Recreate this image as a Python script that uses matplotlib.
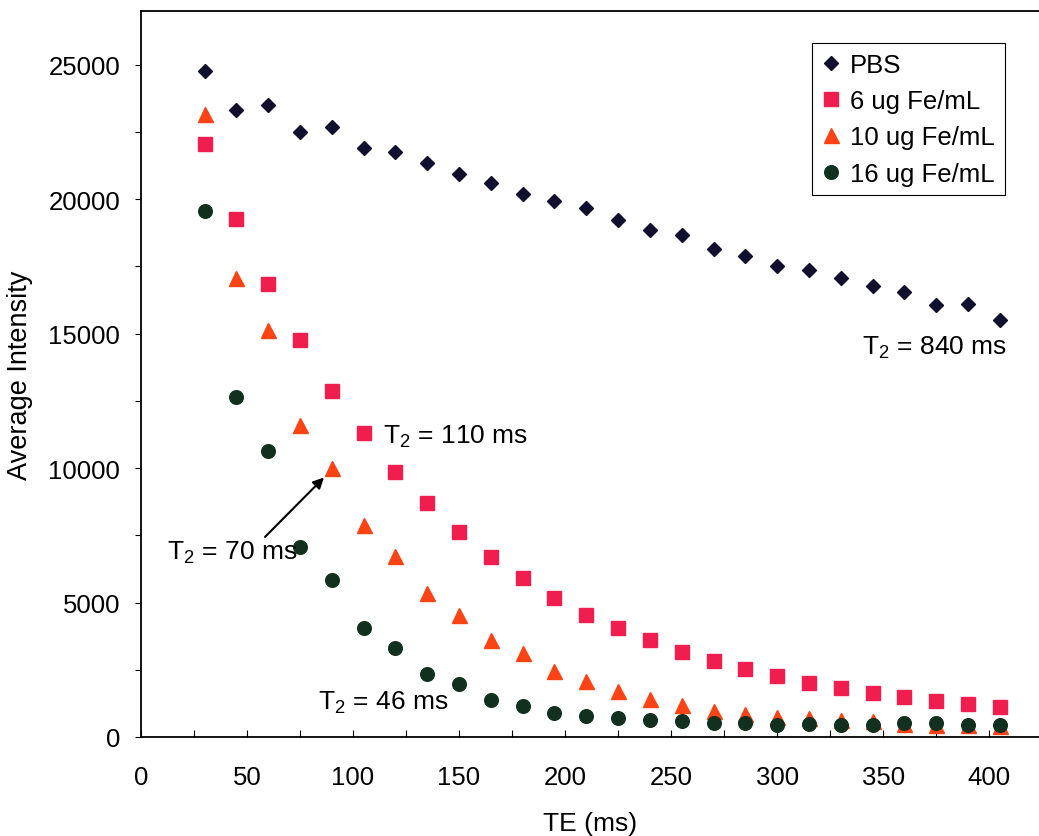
import matplotlib
matplotlib.use("Agg")
import matplotlib.pyplot as plt
from matplotlib.ticker import MultipleLocator

plt.rcParams['font.family'] = ['Liberation Sans', 'DejaVu Sans']
plt.rcParams['mathtext.fontset'] = 'custom'
plt.rcParams['mathtext.rm'] = 'Liberation Sans'
plt.rcParams['mathtext.it'] = 'Liberation Sans'
plt.rcParams['mathtext.default'] = 'regular'

# echo times (ms)
te = [30, 45, 60, 75, 90, 105, 120, 135, 150, 165, 180, 195, 210,
      225, 240, 255, 270, 285, 300, 315, 330, 345, 360, 375, 390, 405]

pbs = [24780, 23300, 23490, 22500, 22680, 21910, 21750, 21350, 20950, 20600,
       20180, 19930, 19680, 19210, 18860, 18650, 18130, 17870, 17510, 17370,
       17060, 16770, 16540, 16050, 16100, 15510]
fe6 = [22060, 19270, 16850, 14770, 12880, 11300, 9870, 8690, 7620, 6700,
       5910, 5170, 4550, 4060, 3610, 3170, 2820, 2530, 2270, 2000,
       1810, 1640, 1480, 1330, 1220, 1120]
fe10 = [23150, 17060, 15140, 11620, 9990, 7890, 6740, 5350, 4540, 3620,
        3120, 2440, 2070, 1700, 1410, 1200, 980, 860, 730, 700,
        640, 600, 470, 450, 430, 420]
fe16 = [19560, 12640, 10630, 7080, 5840, 4040, 3320, 2350, 1955, 1385,
        1135, 880, 790, 700, 630, 580, 520, 520, 460, 480,
        460, 460, 520, 520, 460, 460]

labels = ['PBS', '6 ug Fe/mL', '10 ug Fe/mL', '16 ug Fe/mL']

fig = plt.figure(figsize=(10.39, 8.37), dpi=100)
ax = fig.add_axes([0.1357, 0.1183, 0.8643, 0.8674])

ax.plot(te, pbs, 'D', color='#10102e', ms=7.4, label=labels[0])
ax.plot(te, fe6, 's', color='#f01e4e', ms=9.6, label=labels[1])
ax.plot(te, fe10, '^', color='#fc4315', ms=10.8, label=labels[2])
ax.plot(te, fe16, 'o', color='#11301e', ms=9.8, label=labels[3])

ax.set_xlim(0, 423.5)
ax.set_ylim(0, 27000)

ax.xaxis.set_major_locator(MultipleLocator(50))
ax.xaxis.set_minor_locator(MultipleLocator(25))
ax.yaxis.set_major_locator(MultipleLocator(5000))
ax.yaxis.set_minor_locator(MultipleLocator(2500))

ax.tick_params(axis='x', which='both', direction='in', length=5, width=0.8,
               pad=20, labelsize=18.5)
ax.tick_params(axis='y', which='both', direction='out', length=4, width=0.8,
               pad=11, labelsize=18.5)

ax.spines['right'].set_visible(False)
for s in ['left', 'bottom', 'top']:
    ax.spines[s].set_linewidth(1.3)

ax.set_xlabel('TE (ms)', fontsize=19, labelpad=16)
ax.set_ylabel('Average Intensity', fontsize=19.5, labelpad=11)

ax.text(340, 14510, r'T$_2$ = 840 ms', fontsize=19, va='center')
ax.text(114, 11200, r'T$_2$ = 110 ms', fontsize=19, va='center')
ax.text(12.5, 6880, r'T$_2$ = 70 ms', fontsize=19, va='center')
ax.text(83.5, 1300, r'T$_2$ = 46 ms', fontsize=19, va='center')

ax.annotate('', xy=(86.3, 9650), xytext=(58.5, 7440),
            arrowprops=dict(arrowstyle='-|>', color='black', lw=1.5,
                            mutation_scale=16, shrinkA=0, shrinkB=0))

leg = ax.legend(loc='upper right', bbox_to_anchor=(0.962, 0.956),
                borderaxespad=0, fontsize=18.5, numpoints=1,
                handlelength=0.7, handletextpad=0.4, labelspacing=0.48,
                borderpad=0.38, fancybox=False, framealpha=1)
leg.get_frame().set_edgecolor('black')
leg.get_frame().set_linewidth(0.8)

fig.savefig('out.png', dpi=100)
